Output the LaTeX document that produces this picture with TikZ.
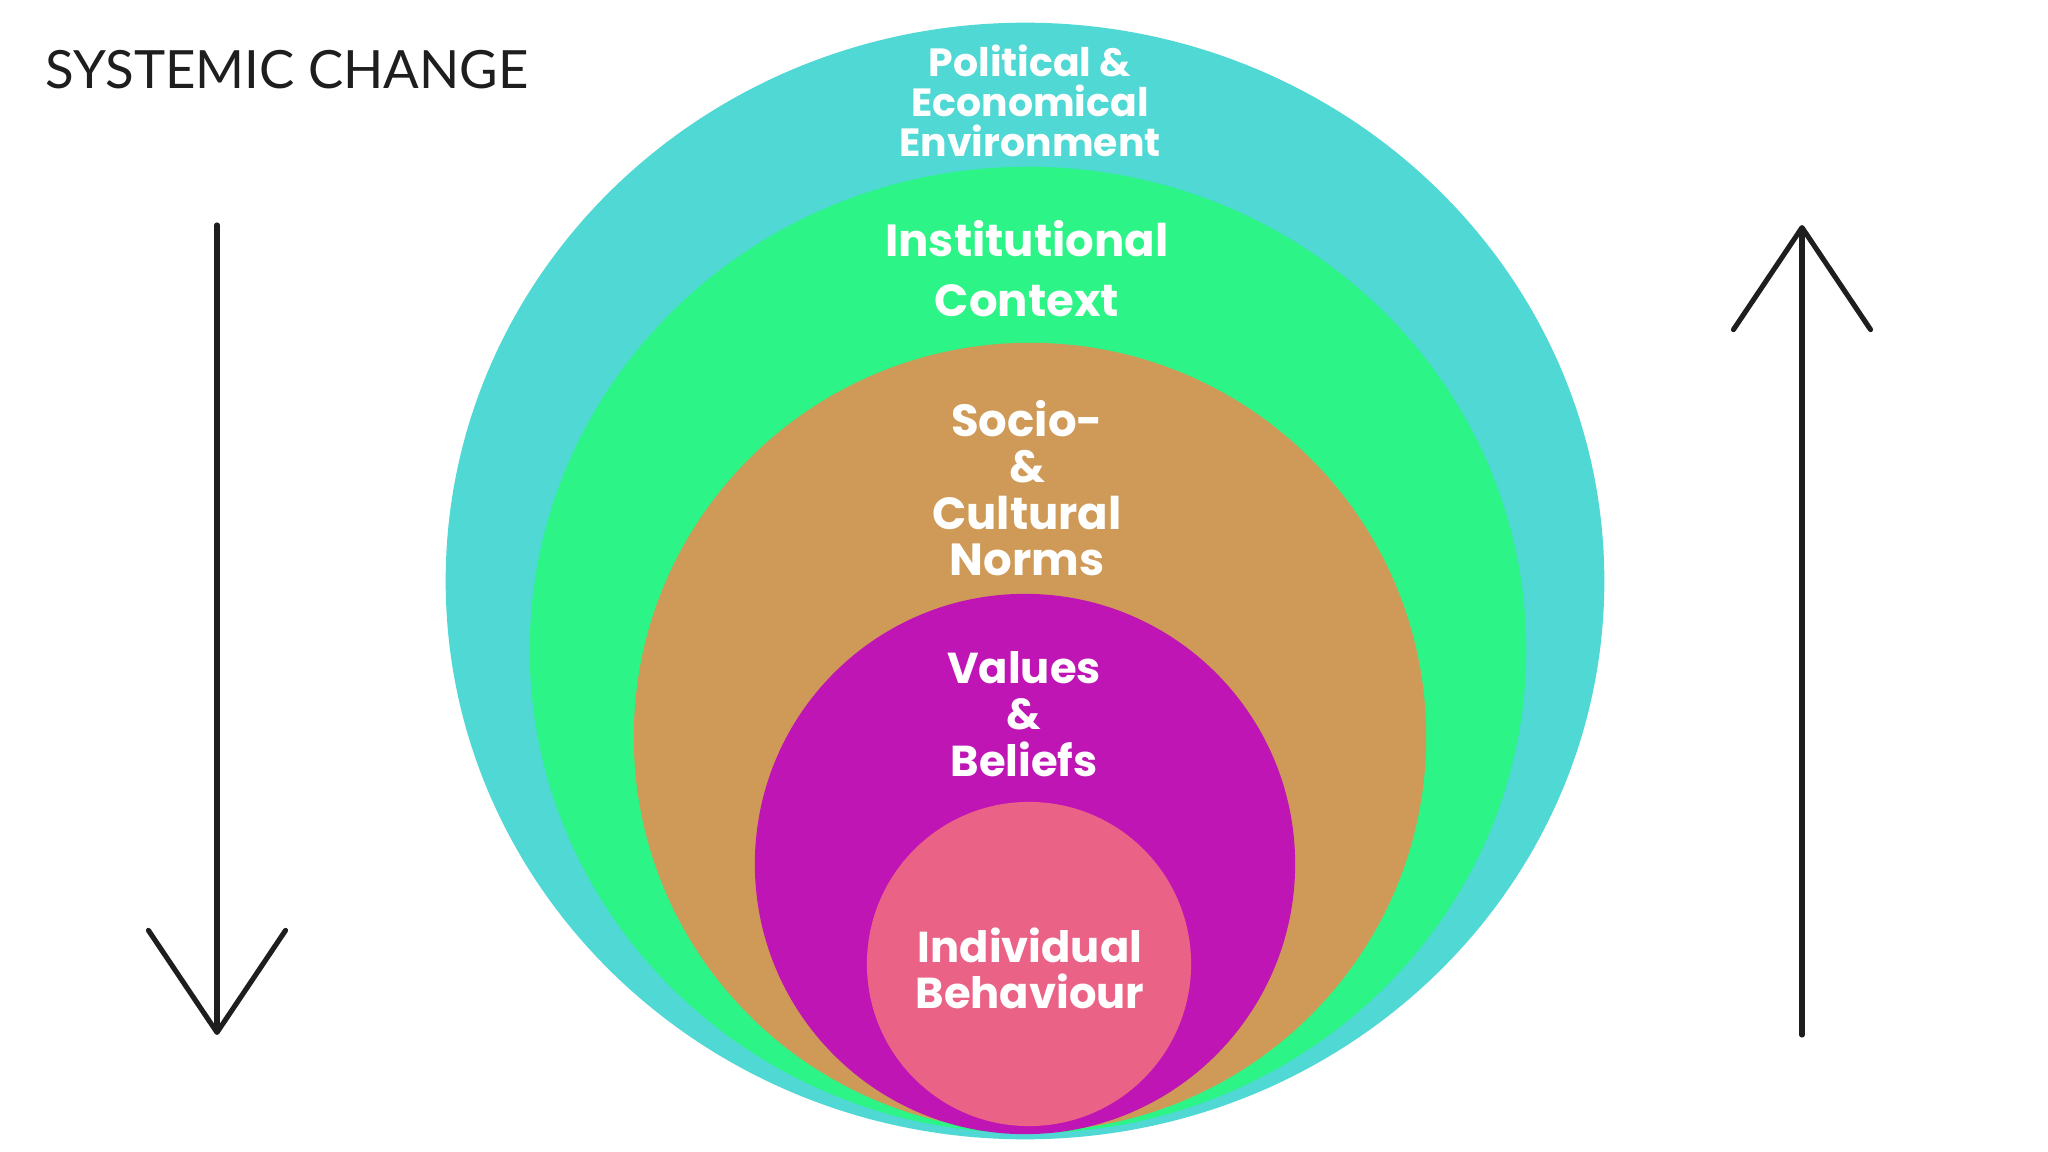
\documentclass[tikz,border=0pt]{standalone}
\usepackage{fontspec}
\setmainfont{Poppins}
\newfontfamily\titlefont{Lato}
\usetikzlibrary{shapes.geometric, arrows.meta, positioning}
\definecolor{ringcyan}{HTML}{4FD8D4}
\definecolor{ringgreen}{HTML}{2CF486}
\definecolor{ringtan}{HTML}{CF9A57}
\definecolor{ringmagenta}{HTML}{BF15B5}
\definecolor{ringpink}{HTML}{EA6386}
\definecolor{inkdark}{HTML}{1E1E1E}

\begin{document}
\begin{tikzpicture}[
    x=0.01cm, y=-0.01cm,
    ring/.style={ellipse, inner sep=0pt, draw=none},
    lbl/.style={text=white, align=center, font=\bfseries},
    bigarrow/.style={line width=1.45pt, draw=inkdark, line cap=round, -{Straight Barb[length=1.02cm, width=1.37cm, round]}}
]
    \useasboundingbox[fill=white] (0,0) rectangle (2048,1152);

    % Rings
    \node[ring, fill=ringcyan, minimum width=11.58cm, minimum height=11.16cm] (outer) at (1025,581) {};
    \node[ring, fill=ringgreen, minimum width=9.96cm, minimum height=9.66cm] (institution) at (1028,650) {};
    \node[ring, fill=ringtan, minimum width=7.92cm, minimum height=7.88cm] (norms) at (1030,737) {};
    \node[ring, fill=ringmagenta, minimum width=5.40cm, minimum height=5.40cm] (values) at (1025,864) {};
    \node[ring, fill=ringpink, minimum width=3.24cm, minimum height=3.24cm] (individual) at (1029,964) {};

    % Labels
    \node[lbl, font=\bfseries\fontsize{11.2}{11.4}\selectfont] (outerlbl) at (1030,101) {Political \&\\Economical\\Environment};
    \node[lbl, font=\bfseries\fontsize{12.8}{17}\selectfont] (institutionlbl) at (1027,269) {Institutional\\Context};
    \node[lbl, font=\bfseries\fontsize{12.8}{13.2}\selectfont] (normslbl) at (1027,488) {Socio-\\\&\\Cultural\\Norms};
    \node[lbl, font=\bfseries\fontsize{12.3}{13.2}\selectfont] (valueslbl) at (1024,714) {Values\\\&\\Beliefs};
    \node[lbl, font=\bfseries\fontsize{12.3}{13}\selectfont] (individuallbl) at (1030,968) {Individual\\Behaviour};

    \node[anchor=west, text=inkdark, font=\titlefont\fontsize{15}{17}\selectfont, inner sep=0pt] (title) at (45,70) {SYSTEMIC CHANGE};

    % Arrows
    \coordinate (downtop) at (217,225);
    \coordinate (downtip) at (217,1035);
    \coordinate (upbottom) at (1802,1035);
    \coordinate (uptip) at (1802,225);
    \draw[bigarrow] (downtop) -- (downtip);
    \draw[bigarrow] (upbottom) -- (uptip);
\end{tikzpicture}
\end{document}
